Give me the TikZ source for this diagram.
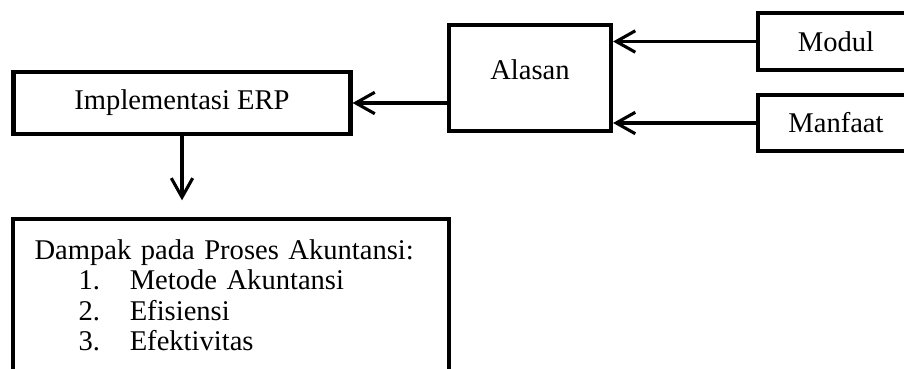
\documentclass[tikz,border=0pt]{standalone}
\usepackage{fontspec}
\setmainfont{Liberation Serif}
\usetikzlibrary{arrows.meta, positioning}
\tikzset{%
>={Straight Barb[length=8pt,width=9pt]},
  % Specifications for style of nodes:
            blok/.style = {rectangle, draw=black, line width=1.8pt,
                            fill=white, inner sep=0pt,
                            font=\fontsize{12}{12.85}\selectfont},
            dampakblok/.style = {blok, align=left, text width=165pt,
                            inner xsep=9pt, inner ysep=8.5pt},
            panah/.style = {->, draw=black, line width=1.3pt, line join=miter}
}
\newcommand{\butir}[2]{\hspace*{18.5pt}\makebox[21.5pt][l]{#1}#2}

\begin{document}
\begin{tikzpicture}[x=0.42pt, y=-0.42pt]
                \useasboundingbox (0,0) rectangle (904,369);
                \clip (0,0) rectangle (904,369);

                \node[blok, minimum width=141.5pt, minimum height=26.3pt] (impl) at (182,103) {Implementasi ERP};
                \node[blok, minimum width=68pt, minimum height=44.7pt, text depth=6.8pt] (alasan) at (530,78) {Alasan};
                \node[blok, minimum width=65.5pt, minimum height=24pt] (modul) at (836,41.5) {Modul};
                \node[blok, minimum width=65.5pt, minimum height=23.7pt] (manfaat) at (836,123) {Manfaat};

                \node[dampakblok, anchor=north west] (dampak) at (11,217) {Dampak pada Proses Akuntansi:\\
                    \butir{1.}{Metode Akuntansi}\\
                    \butir{2.}{Efisiensi}\\
                    \butir{3.}{Efektivitas}};

                \draw[panah] (modul.west) -- (modul.west -| alasan.east);
                \draw[panah] (manfaat.west) -- (manfaat.west -| alasan.east);
                \draw[panah] (impl.east -| alasan.west) -- (impl.east);
                \draw[panah, shorten >=7pt] (impl.south) -- (impl.south |- dampak.north);

            \end{tikzpicture}
\end{document}
